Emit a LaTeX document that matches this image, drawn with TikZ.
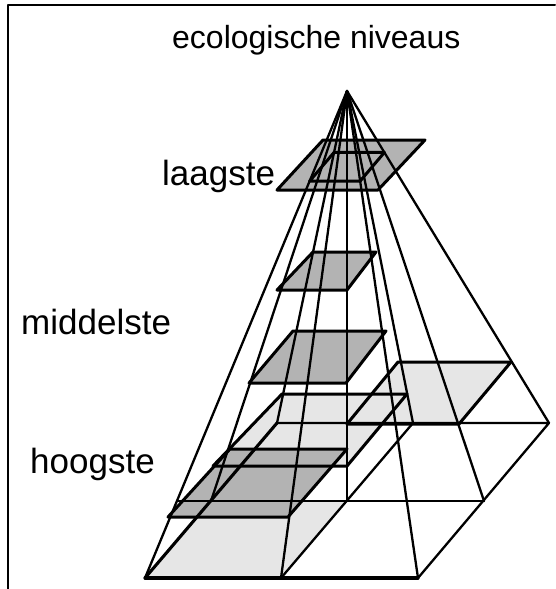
\documentclass[tikz,border=0pt]{standalone}
\usepackage{fontspec}
\setmainfont{Liberation Sans}
\usetikzlibrary{calc}
\definecolor{midgray}{RGB}{179,179,179}
\definecolor{palegray}{RGB}{230,230,230}
\begin{document}
\begin{tikzpicture}[x=1pt,y=-1pt,line join=round,line cap=round,
  radial/.style={line width=2.3pt},
  edge/.style={line width=2.3pt},
  boldedge/.style={line width=3.1pt},
  planeM/.style={fill=midgray},
  planeL/.style={fill=palegray},
  outline/.style={draw,line width=3pt},
  lbl/.style={font=\fontsize{35}{38}\selectfont,anchor=base west,inner sep=0pt}]
\useasboundingbox (0,0) rectangle (555,589);
% frame
\draw[line width=2pt] (8,589) -- (8,5) -- (555,5);
% apex and base grid
\coordinate (A) at (347,91);
\coordinate (G00) at (145,578);
\coordinate (G10) at (281,578);
\coordinate (G20) at (418,578);
\coordinate (G01) at (211,501);
\coordinate (G11) at (347,501);
\coordinate (G21) at (484,501);
\coordinate (G02) at (277,423);
\coordinate (G12) at (413,423);
\coordinate (G22) at (549,423);
% planes (corner coordinates)
\coordinate (R1) at (347,424); \coordinate (R2) at (459,424);
\coordinate (R3) at (511,362); \coordinate (R4) at (398,362);
\coordinate (P1) at (213,466); \coordinate (P2) at (347,466);
\coordinate (P3) at (407,394); \coordinate (P4) at (282,394);
\coordinate (H1) at (168,517); \coordinate (H2) at (288,517);
\coordinate (H3) at (347,449); \coordinate (H4) at (230,449);
\coordinate (M1) at (249,383); \coordinate (M2) at (346,383);
\coordinate (M3) at (386,331); \coordinate (M4) at (293,331);
\coordinate (N1) at (277,290); \coordinate (N2) at (347,290);
\coordinate (N3) at (376,252); \coordinate (N4) at (313,252);
\coordinate (T1) at (277,190); \coordinate (T2) at (378,190);
\coordinate (T3) at (425,140); \coordinate (T4) at (323,140);
% fills
\fill[planeL] (G00) -- (G10) -- (G11) -- (G01) -- cycle;
\fill[planeL] (R1) -- (R2) -- (R3) -- (R4) -- cycle;
\fill[planeL] (P1) -- (P2) -- (P3) -- (P4) -- cycle;
\fill[planeM] (H1) -- (H2) -- (H3) -- (H4) -- cycle;
\fill[planeM] (M1) -- (M2) -- (M3) -- (M4) -- cycle;
\fill[planeM] (N1) -- (N2) -- (N3) -- (N4) -- cycle;
\fill[planeM] (T1) -- (T2) -- (T3) -- (T4) -- cycle;
% base lines
\draw[boldedge] (G00) -- (G20);
\draw[boldedge] (G00) -- (G02);
\draw[edge] (G20) -- (G22) -- (G02);
\draw[edge] (G10) -- (G12);
\draw[edge] (177,501) -- (G21);
% plane outlines
\draw[outline] (R1) -- (R2) -- (R3) -- (R4) -- cycle;
\draw[outline] (P1) -- (P2) -- (P3) -- (P4) -- cycle;
\draw[outline] (H1) -- (H2) -- (H3) -- (H4) -- cycle;
\draw[outline] (M1) -- (M2) -- (M3) -- (M4) -- cycle;
\draw[outline] (N1) -- (N2) -- (N3) -- (N4) -- cycle;
\draw[outline] (T1) -- (T2) -- (T3) -- (T4) -- cycle;
\draw[outline] ($(A)!0.185!(G00)$) -- ($(A)!0.185!(G20)$) -- ($(A)!0.185!(G22)$) -- ($(A)!0.185!(G02)$) -- cycle;
% radial lines
\foreach \g in {G00,G10,G20,G01,G11,G21,G02,G12,G22}
  \draw[radial] (A) -- (\g);
% labels
\node[lbl,font=\fontsize{32}{35}\selectfont] (title) at (172,48) {ecologische niveaus};
\node[lbl] (laag) at (162,185) {laagste};
\node[lbl] (midd) at (21,334) {middelste};
\node[lbl] (hoog) at (30,473) {hoogste};
\end{tikzpicture}
\end{document}
